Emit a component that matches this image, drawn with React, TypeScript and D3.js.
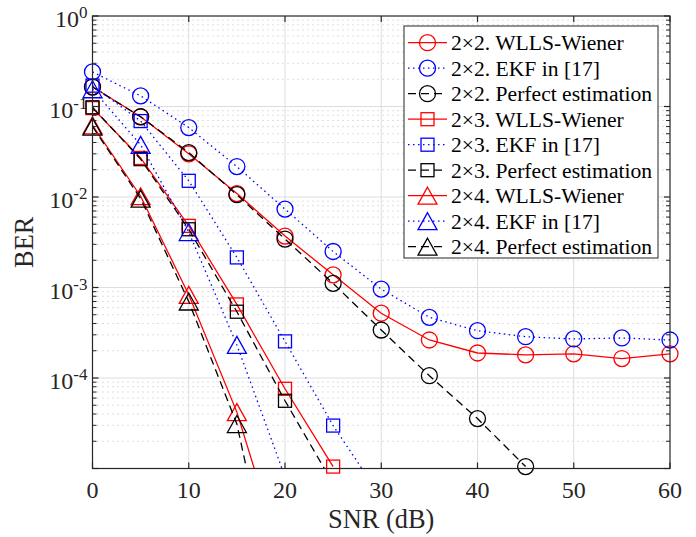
import React from 'react';
import * as d3 from 'd3';

// SNR grid (dB)
const snr = [0, 5, 10, 15, 20, 25, 30, 35, 40, 45, 50, 55, 60];

// BER curves, one array per configuration / estimator
const wiener22 = [0.165, 0.077, 0.030, 0.0109, 0.0037, 0.00138, 0.00052, 0.000263, 0.000189, 0.00018, 0.000185, 0.000164, 0.000185];
const ekf22 = [0.241, 0.131, 0.0585, 0.0217, 0.00735, 0.0025, 0.00096, 0.000468, 0.000333, 0.000286, 0.00027, 0.000277, 0.000263];
const perfect22 = [0.164, 0.077, 0.031, 0.0106, 0.00343, 0.00111, 0.000339, 0.000106, 3.56e-5, 1.05e-5];
const wiener23 = [0.096, 0.027, 0.0048, 0.00065, 7.6e-5, 1.05e-5];
const ekf23 = [0.17, 0.069, 0.0151, 0.00215, 0.000254, 2.98e-5, 4.8e-6];
const perfect23 = [0.098, 0.0262, 0.0044, 0.00054, 5.6e-5, 6.8e-6];
const wiener24 = [0.062, 0.0102, 0.00083, 4.2e-5, 7.9e-7];
const ekf24 = [0.155, 0.0377, 0.0041, 0.000232, 8.1e-6];
const perfect24 = [0.060, 0.0096, 0.0007, 3.1e-5, 1.1e-7];

const seriesLabels = [
  '2\u00d72. WLLS-Wiener',
  '2\u00d72. EKF in [17]',
  '2\u00d72. Perfect estimation',
  '2\u00d73. WLLS-Wiener',
  '2\u00d73. EKF in [17]',
  '2\u00d73. Perfect estimation',
  '2\u00d74. WLLS-Wiener',
  '2\u00d74. EKF in [17]',
  '2\u00d74. Perfect estimation',
];

const xTicks = [0, 10, 20, 30, 40, 50, 60];
const yDecades = [0, -1, -2, -3, -4, -5];

type Marker = 'circle' | 'square' | 'triangle';
type Style = 'solid' | 'dotted' | 'dashed';

const seriesValues = [wiener22, ekf22, perfect22, wiener23, ekf23, perfect23, wiener24, ekf24, perfect24];
const seriesMarkers: Marker[] = ['circle', 'circle', 'circle', 'square', 'square', 'square', 'triangle', 'triangle', 'triangle'];
const seriesStyles: Style[] = ['solid', 'dotted', 'dashed', 'solid', 'dotted', 'dashed', 'solid', 'dotted', 'dashed'];

const COLORS: Record<Style, string> = { solid: '#ff0000', dotted: '#0000ff', dashed: '#000000' };
const DASH: Record<Style, string | undefined> = { solid: undefined, dotted: '1.5,3.5', dashed: '8,5' };

const W = 696;
const H = 537;
const M = { left: 92.5, right: 670, top: 16, bottom: 468.5 };
const FONT = "'Liberation Serif', 'Times New Roman', Times, serif";
const AXIS = '#262626';
const serif = { fontFamily: FONT };

function MarkerShape({ kind, cx, cy, color }: { kind: Marker; cx: number; cy: number; color: string }) {
  const common = { fill: 'none', stroke: color, strokeWidth: 1.3 };
  if (kind === 'circle') return <circle cx={cx} cy={cy} r={8} {...common} />;
  if (kind === 'square') return <rect x={cx - 6.5} y={cy - 6.5} width={13} height={13} {...common} />;
  return <path d={`M${cx},${cy - 8.5}L${cx + 9.5},${cy + 8.5}L${cx - 9.5},${cy + 8.5}Z`} {...common} />;
}

export default function App() {
  const x = d3.scaleLinear().domain([0, 60]).range([M.left, M.right]);
  const y = d3.scaleLog().domain([1e-5, 1]).range([M.bottom, M.top]);

  const minor: number[] = [];
  for (let e = -5; e < 0; e++) for (let k = 2; k <= 9; k++) minor.push(k * Math.pow(10, e));

  const line = d3
    .line<[number, number]>()
    .x((d) => x(d[0]))
    .y((d) => y(d[1]));

  const series = seriesValues.map((vals, i) => ({
    label: seriesLabels[i],
    pts: vals.map((v, j) => [snr[j], v] as [number, number]),
    marker: seriesMarkers[i],
    style: seriesStyles[i],
  }));

  const leg = { x0: 404, y0: 26, x1: 658, y1: 258, row0: 42.7, dy: 25.5 };

  return (
    <svg width={W} height={H} style={{ position: 'absolute', left: 0, top: 0, display: 'block', background: '#fff' }}>
      <defs>
        <clipPath id="plotArea">
          <rect x={M.left} y={M.top} width={M.right - M.left} height={M.bottom - M.top} />
        </clipPath>
      </defs>
      <rect x={M.left} y={M.top} width={M.right - M.left} height={M.bottom - M.top} fill="#fff" />

      {/* grid */}
      <g>
        {minor.map((v) => (
          <line key={'mg' + v} x1={M.left} x2={M.right} y1={y(v)} y2={y(v)} stroke="#b8b8b8" strokeWidth={0.9} strokeDasharray="1,4" />
        ))}
        {yDecades.slice(1, 5).map((e) => (
          <line key={'yg' + e} x1={M.left} x2={M.right} y1={y(Math.pow(10, e))} y2={y(Math.pow(10, e))} stroke="#dedede" strokeWidth={1} />
        ))}
        {xTicks.slice(1, 6).map((t) => (
          <line key={'xg' + t} x1={x(t)} x2={x(t)} y1={M.top} y2={M.bottom} stroke="#dedede" strokeWidth={1} />
        ))}
      </g>

      {/* curves */}
      {series.map((s, i) => {
        const color = COLORS[s.style];
        return (
          <g key={'s' + i}>
            <path d={line(s.pts) || ''} fill="none" stroke={color} strokeWidth={1.3} strokeDasharray={DASH[s.style]} clipPath="url(#plotArea)" />
            {s.pts
              .filter((p) => p[1] >= 1e-5)
              .map((p, j) => (
                <MarkerShape key={j} kind={s.marker} cx={x(p[0])} cy={y(p[1])} color={color} />
              ))}
          </g>
        );
      })}

      {/* axes box and ticks */}
      <g stroke={AXIS} strokeWidth={1.2}>
        <rect x={M.left} y={M.top} width={M.right - M.left} height={M.bottom - M.top} fill="none" />
        {xTicks.map((t) => (
          <g key={'xt' + t}>
            <line x1={x(t)} x2={x(t)} y1={M.bottom} y2={M.bottom - 6} />
            <line x1={x(t)} x2={x(t)} y1={M.top} y2={M.top + 6} />
          </g>
        ))}
        {yDecades.map((e) => (
          <g key={'yt' + e}>
            <line x1={M.left} x2={M.left + 6} y1={y(Math.pow(10, e))} y2={y(Math.pow(10, e))} />
            <line x1={M.right} x2={M.right - 6} y1={y(Math.pow(10, e))} y2={y(Math.pow(10, e))} />
          </g>
        ))}
        {minor.map((v) => (
          <g key={'ym' + v}>
            <line x1={M.left} x2={M.left + 4} y1={y(v)} y2={y(v)} strokeWidth={1} />
            <line x1={M.right} x2={M.right - 4} y1={y(v)} y2={y(v)} strokeWidth={1} />
          </g>
        ))}
      </g>

      {/* tick labels */}
      <g fill={AXIS}>
        {xTicks.map((t) => (
          <text key={'xl' + t} x={x(t)} y={498} textAnchor="middle" style={{ ...serif, fontSize: 24 }}>
            {t}
          </text>
        ))}
        {yDecades.slice(0, 5).map((e) => (
          <text key={'yl' + e} x={87.5} y={y(Math.pow(10, e)) + 11} textAnchor="end" style={{ ...serif, fontSize: 24 }}>
            10
            <tspan dy={-9} style={{ fontSize: 17 }}>
              {String(e)}
            </tspan>
          </text>
        ))}
      </g>

      {/* axis titles */}
      <text x={(M.left + M.right) / 2} y={528} textAnchor="middle" fill={AXIS} style={{ ...serif, fontSize: 26.4 }}>
        SNR (dB)
      </text>
      <text transform={`translate(33,${(M.top + M.bottom) / 2}) rotate(-90)`} textAnchor="middle" fill={AXIS} style={{ ...serif, fontSize: 26.4 }}>
        BER
      </text>

      {/* legend */}
      <g>
        <rect x={leg.x0} y={leg.y0} width={leg.x1 - leg.x0} height={leg.y1 - leg.y0} fill="#fff" stroke={AXIS} strokeWidth={1} />
        {series.map((s, i) => {
          const cy = leg.row0 + i * leg.dy;
          const color = COLORS[s.style];
          return (
            <g key={'lg' + i}>
              <line x1={408} x2={447} y1={cy} y2={cy} stroke={color} strokeWidth={1.3} strokeDasharray={DASH[s.style]} />
              <MarkerShape kind={s.marker} cx={427.5} cy={cy} color={color} />
              <text x={451} y={cy + 7.5} fill="#000" style={{ ...serif, fontSize: 21.6 }}>
                {s.label}
              </text>
            </g>
          );
        })}
      </g>
    </svg>
  );
}
